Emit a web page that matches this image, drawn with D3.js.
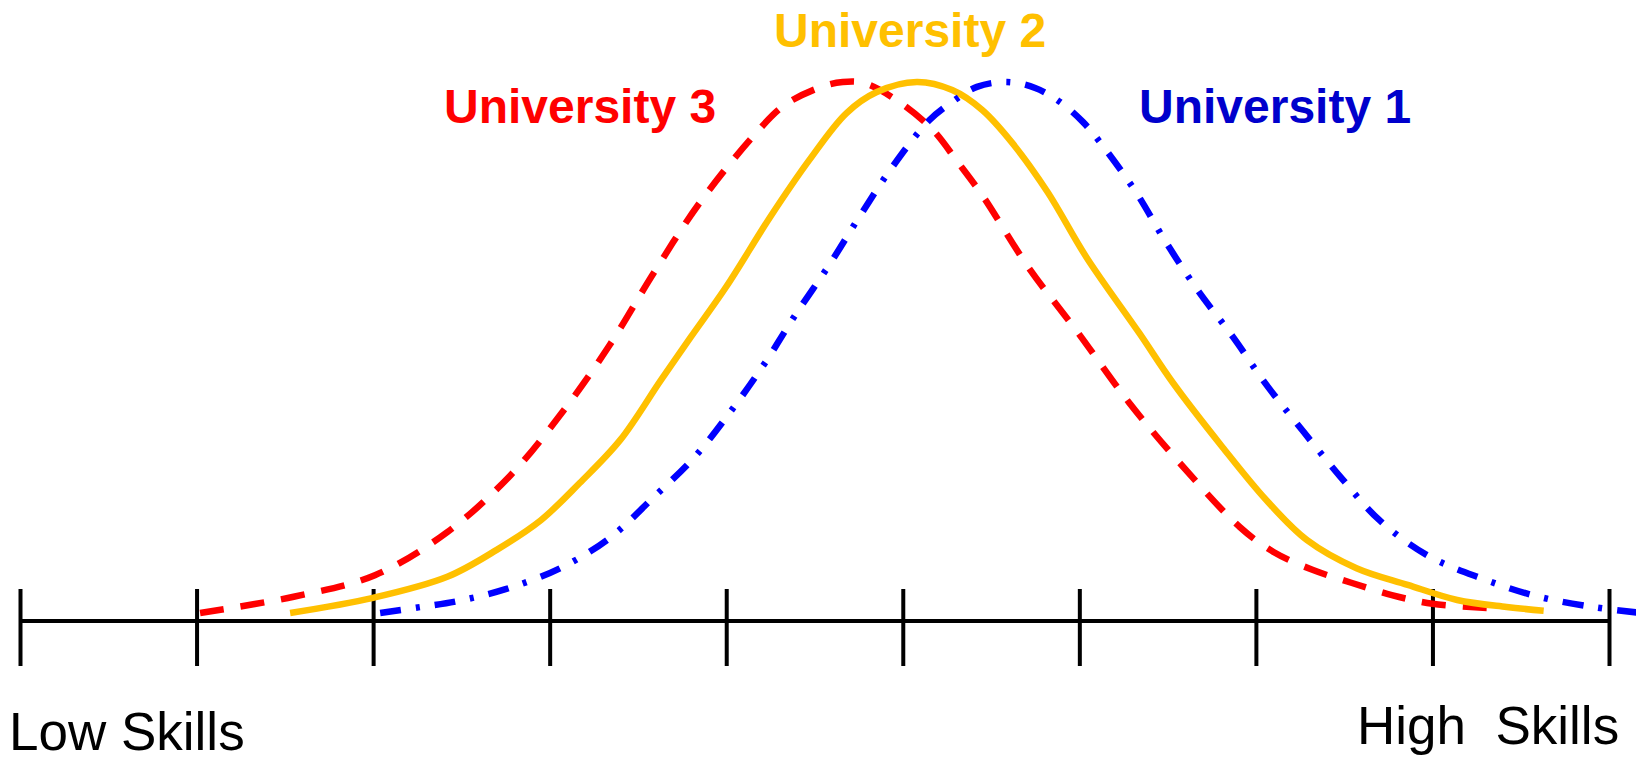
<!DOCTYPE html>
<html lang="en">
  <head>
    <meta charset="UTF-8" />
    <title>Skills distribution</title>
    <script src="https://cdn.jsdelivr.net/npm/d3@7"></script>
    <style>
      body { margin: 0; background: #fff; }
      text { font-family: "Liberation Sans", Arial, sans-serif; }
    </style>
  </head>
  <body>
    <script>
      // skill axis: 0..9 ticks, density 0..1 (peak)
      var skillTicks = [0, 1, 2, 3, 4, 5, 6, 7, 8, 9];

      var uni3 = [
        [1.02, 0.015], [1.55, 0.045], [2.01, 0.085], [2.42, 0.165], [2.78, 0.271],
        [3.08, 0.391], [3.34, 0.512], [3.59, 0.646], [3.85, 0.776], [4.16, 0.902],
        [4.33, 0.957], [4.54, 0.991], [4.66, 1.0], [4.78, 0.998], [4.98, 0.963],
        [5.17, 0.911], [5.31, 0.852], [5.45, 0.79], [5.71, 0.657], [5.99, 0.536],
        [6.28, 0.406], [6.58, 0.289], [6.91, 0.174], [7.1, 0.128], [7.32, 0.095],
        [7.54, 0.071], [7.77, 0.048], [8.0, 0.032], [8.31, 0.024]
      ];

      var uni2 = [
        [1.53, 0.015], [2.0, 0.043], [2.42, 0.082], [2.7, 0.132], [2.95, 0.187],
        [3.17, 0.256], [3.4, 0.336], [3.63, 0.447], [3.8, 0.527], [4.0, 0.62],
        [4.25, 0.75], [4.47, 0.855], [4.68, 0.942], [4.85, 0.981], [5.08, 1.0],
        [5.28, 0.985], [5.45, 0.948], [5.62, 0.887], [5.82, 0.796], [6.04, 0.675],
        [6.34, 0.534], [6.53, 0.442], [6.81, 0.323], [7.06, 0.224], [7.29, 0.15],
        [7.57, 0.098], [7.86, 0.067], [8.14, 0.039], [8.42, 0.026], [8.63, 0.019]
      ];

      var uni1 = [
        [2.04, 0.015], [2.27, 0.026], [2.48, 0.037], [2.75, 0.059], [3.06, 0.098],
        [3.34, 0.154], [3.59, 0.23], [3.82, 0.304], [4.03, 0.391], [4.22, 0.479],
        [4.38, 0.562], [4.59, 0.664], [4.76, 0.753], [4.94, 0.842], [5.15, 0.929],
        [5.28, 0.963], [5.42, 0.991], [5.59, 1.0], [5.75, 0.989], [5.89, 0.963],
        [6.02, 0.926], [6.12, 0.887], [6.32, 0.796], [6.49, 0.703], [6.67, 0.614],
        [6.87, 0.527], [7.06, 0.438], [7.27, 0.351], [7.48, 0.267], [7.7, 0.187],
        [7.97, 0.122], [8.27, 0.08], [8.59, 0.046], [8.91, 0.026], [9.18, 0.015]
      ];

      var names = ["University 1", "University 2", "University 3"];
      var axisLabels = ["Low Skills", "High  Skills"];

      var width = 1636, height = 757;

      var svg = d3.select("body").append("svg")
        .attr("width", width)
        .attr("height", height);

      var x = d3.scaleLinear().domain([0, 9]).range([20, 1609]);
      var y = d3.scaleLinear().domain([0, 1]).range([621, 82]);

      // ticks (above and below the baseline)
      var axis = svg.append("g")
        .attr("transform", "translate(0,589)")
        .call(d3.axisBottom(x).tickValues(skillTicks).tickSize(77).tickFormat(""));
      axis.select(".domain").remove();
      axis.selectAll(".tick line").attr("stroke", "#000").attr("stroke-width", 4);

      svg.append("line")
        .attr("x1", x(0)).attr("x2", x(9))
        .attr("y1", y(0)).attr("y2", y(0))
        .attr("stroke", "#000")
        .attr("stroke-width", 4);

      var line = d3.line()
        .x(function (d) { return x(d[0]); })
        .y(function (d) { return y(d[1]); })
        .curve(d3.curveCatmullRom);

      svg.append("path")
        .datum(uni3)
        .attr("d", line)
        .attr("fill", "none")
        .attr("stroke", "#ff0000")
        .attr("stroke-width", 6.5)
        .attr("stroke-dasharray", "24,17");

      svg.append("path")
        .datum(uni2)
        .attr("d", line)
        .attr("fill", "none")
        .attr("stroke", "#ffc000")
        .attr("stroke-width", 6.5);

      svg.append("path")
        .datum(uni1)
        .attr("d", line)
        .attr("fill", "none")
        .attr("stroke", "#0000ff")
        .attr("stroke-width", 6.5)
        .attr("stroke-dasharray", "21,15,4,15");

      // series labels
      svg.append("text")
        .attr("x", 1139).attr("y", 123)
        .attr("font-size", 48).attr("font-weight", "bold")
        .attr("fill", "#0000cc")
        .text(names[0]);

      svg.append("text")
        .attr("x", 774).attr("y", 47)
        .attr("font-size", 48).attr("font-weight", "bold")
        .attr("fill", "#ffc000")
        .text(names[1]);

      svg.append("text")
        .attr("x", 444).attr("y", 123)
        .attr("font-size", 48).attr("font-weight", "bold")
        .attr("fill", "#ff0000")
        .text(names[2]);

      // axis end labels
      svg.append("text")
        .attr("x", 9).attr("y", 750)
        .attr("font-size", 53)
        .attr("fill", "#000")
        .text(axisLabels[0]);

      svg.append("text")
        .attr("x", 1357).attr("y", 744)
        .attr("font-size", 53)
        .attr("fill", "#000")
        .style("white-space", "pre")
        .text(axisLabels[1]);
    </script>
  </body>
</html>
